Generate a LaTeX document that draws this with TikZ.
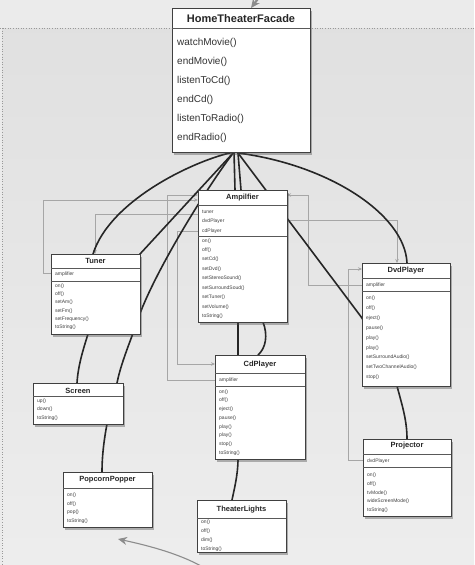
\documentclass[tikz,border=0pt]{standalone}
\usepackage{fontspec}
\setmainfont{Liberation Sans}
\usetikzlibrary{shadows,arrows.meta,calc}
\newcommand\umlrows[6]{%
  \foreach \t [count=\i] in {#6} {\node[#2] (#1\i) at (#3,{#4+(\i-1)*#5}) {\t};}}
\begin{document}
\begin{tikzpicture}[x=1pt,y=-1pt,
  box/.style={draw=black!75, line width=0.6pt, fill=white, anchor=north west,
    inner sep=0pt, outer sep=0pt,
    drop shadow={shadow xshift=2.2pt, shadow yshift=-2.5pt, opacity=0.4, fill=black!70}},
  ttl/.style={font=\fontsize{7.5}{8}\selectfont\bfseries, inner sep=0pt, text=black!85},
  bigttl/.style={font=\fontsize{11}{12}\selectfont\bfseries, inner sep=0pt, text=black!85},
  mem/.style={font=\fontsize{5}{6}\selectfont, anchor=west, inner sep=0pt, text=black!75},
  bigmem/.style={font=\fontsize{10}{11}\selectfont, anchor=west, inner sep=0pt, text=black!80},
  sepline/.style={draw=black!65, line width=0.5pt},
  conn/.style={line width=1.6pt, draw=black!85},
  dep/.style={draw=black!35, line width=0.5pt, -{Stealth[length=4pt,width=3.5pt]}},
  bigarrow/.style={draw=black!45, -{Stealth[length=9pt,width=8pt]}},
]
\useasboundingbox (0,0) rectangle (474,565);
\clip (0,0) rectangle (474,565);
% background
\fill[black!8] (0,0) rectangle (474,565);
\shade[top color=black!12, bottom color=black!7] (2,28) rectangle (474,565);
\draw[black!40, dotted, line width=0.6pt] (0,28) -- (474,28);
\draw[black!40, dotted, line width=0.6pt] (2,28) -- (2,565);

% named coordinates
\coordinate (hub) at (234,152);
\coordinate (hubr) at (238,153);
\coordinate (tunerTop) at (93,254);
\coordinate (tunerBotL) at (88,334);
\coordinate (tunerEdge) at (139,316);
\coordinate (tunerBotR) at (132,336);
\coordinate (screenTopL) at (77,383);
\coordinate (screenTopR) at (117,383);
\coordinate (screenBot) at (107,424);
\coordinate (popTop) at (102,472);
\coordinate (ampTopA) at (235,190);
\coordinate (ampTopB) at (241,190);
\coordinate (ampBotA) at (238,322);
\coordinate (ampBotB) at (263,322);
\coordinate (cdTopA) at (238,355);
\coordinate (cdTopB) at (258,355);
\coordinate (cdBot) at (238,459);
\coordinate (tlTop) at (232,500);
\coordinate (dvdLeft) at (362,318);
\coordinate (dvdTop) at (407,263);
\coordinate (dvdBot) at (397,386);
\coordinate (projTop) at (407,439);

% dependency arrows (grey)
\coordinate (d1a) at (51,273); \coordinate (d1b) at (198,200);
\draw[dep] (d1a) -- (43,273) -- (43,200) -- (d1b);
\coordinate (d2a) at (198,214); \coordinate (d2b) at (95,254);
\draw[dep] (d2a) -- (95,214) -- (d2b);
\coordinate (d3a) at (215,380); \coordinate (d3b) at (198,195);
\draw[dep] (d3a) -- (167,380) -- (167,195) -- (d3b);
\coordinate (d4a) at (198,231); \coordinate (d4b) at (215,364);
\draw[dep] (d4a) -- (177,231) -- (177,364) -- (d4b);
\coordinate (d5a) at (362,285); \coordinate (d5b) at (287,195);
\draw[dep] (d5a) -- (308,285) -- (308,195) -- (d5b);
\coordinate (d6a) at (287,220); \coordinate (d6b) at (397,263);
\draw[dep] (d6a) -- (397,220) -- (d6b);
\coordinate (d7a) at (363,460); \coordinate (d7b) at (362,269);
\draw[dep] (d7a) -- (348,460) -- (348,269) -- (d7b);

% connectors (black)
\draw[conn] (hub) .. controls (195,160) and (110,200) .. (tunerTop);
\draw[conn] (hub) -- (140,254) -- (tunerBotL) .. controls (83,350) and (78,366) .. (screenTopL);
\draw[conn] (hub) .. controls (212,180) and (158,265) .. (tunerEdge) -- (tunerBotR)
   .. controls (126,352) and (120,368) .. (screenTopR) -- (screenBot)
   .. controls (104,440) and (102,456) .. (popTop);
\draw[conn] (hub) -- (ampTopA) -- (ampBotA) -- (cdTopA) -- (cdBot)
   .. controls (238,475) and (234,490) .. (tlTop);
\draw[conn] (hubr) -- (ampTopB) -- (ampBotB) .. controls (268,335) and (266,348) .. (cdTopB);
\draw[conn] (hubr) -- (dvdLeft) -- (dvdBot) .. controls (402,405) and (407,420) .. (projTop);
\draw[conn] (hubr) .. controls (330,165) and (405,215) .. (dvdTop);

% big grey arrows
\coordinate (ta) at (266,-12); \coordinate (tb) at (251,8);
\draw[bigarrow, line width=2.2pt] (ta) -- (tb);
\coordinate (ba) at (215,575); \coordinate (bb) at (118,539);
\draw[bigarrow, line width=1.1pt] (ba) .. controls (190,556) and (150,546) .. (bb);

% HomeTheaterFacade
\node[box, minimum width=138pt, minimum height=144pt] (facade) at (172,8) {};
\node[bigttl] (facadet) at (241,18.5) {HomeTheaterFacade};
\draw[sepline] (172,28) -- (310,28);
\umlrows{facm}{bigmem}{177}{42.5}{19}{watchMovie(),endMovie(),listenToCd(),endCd(),listenToRadio(),endRadio()}

% Ampilfier
\node[box, minimum width=89pt, minimum height=132pt] (amp) at (198,190) {};
\node[ttl] (ampt) at (242.5,197.5) {Ampilfier};
\draw[sepline] (198,205.5) -- (287,205.5);
\draw[sepline] (198,236.5) -- (287,236.5);
\umlrows{ampa}{mem}{202}{211.5}{9.75}{tuner,dvdPlayer,cdPlayer}
\umlrows{ampm}{mem}{202}{240.8}{9.42}{on(),off(),setCd(),setDvd(),setStereoSound(),setSurroundSoud(),setTuner(),setVolume(),toString()}

% Tuner
\node[box, minimum width=89pt, minimum height=80pt] (tuner) at (51,254) {};
\node[ttl] (tunert) at (95.5,260.5) {Tuner};
\draw[sepline] (51,268.5) -- (140,268.5);
\draw[sepline] (51,281.5) -- (140,281.5);
\umlrows{tunera}{mem}{55}{274.5}{1}{amplifier}
\umlrows{tunerm}{mem}{55}{286.5}{8.1}{on(),off(),setAm(),setFm(),setFrequency(),toString()}

% DvdPlayer
\node[box, minimum width=88pt, minimum height=123pt] (dvd) at (362,263) {};
\node[ttl] (dvdt) at (406,271) {DvdPlayer};
\draw[sepline] (362,278.5) -- (450,278.5);
\draw[sepline] (362,291.5) -- (450,291.5);
\umlrows{dvda}{mem}{366}{284.8}{1}{amplifier}
\umlrows{dvdm}{mem}{366}{298.5}{9.85}{on(),off(),eject(),pause(),play(),play(),setSurroundAudio(),setTwoChannelAudio(),stop()}

% CdPlayer
\node[box, minimum width=90pt, minimum height=104pt] (cd) at (215,355) {};
\node[ttl] (cdt) at (260,364.5) {CdPlayer};
\draw[sepline] (215,373.5) -- (305,373.5);
\draw[sepline] (215,386.5) -- (305,386.5);
\umlrows{cda}{mem}{219}{380}{1}{amplifier}
\umlrows{cdm}{mem}{219}{392}{8.7}{on(),off(),eject(),pause(),play(),play(),stop(),toString()}

% Screen
\node[box, minimum width=90pt, minimum height=41pt] (screen) at (33,383) {};
\node[ttl] (screent) at (78,390.5) {Screen};
\draw[sepline] (33,396.5) -- (123,396.5);
\umlrows{screenm}{mem}{37}{401}{8.6}{up(),down(),toString()}

% PopcornPopper
\node[box, minimum width=89pt, minimum height=55pt] (pop) at (63,472) {};
\node[ttl] (popt) at (107.5,480) {PopcornPopper};
\draw[sepline] (63,488.5) -- (152,488.5);
\umlrows{popm}{mem}{67}{495}{8.85}{on(),off(),pop(),toString()}

% TheaterLights
\node[box, minimum width=89pt, minimum height=52pt] (tl) at (197,500) {};
\node[ttl] (tlt) at (241.5,509.5) {TheaterLights};
\draw[sepline] (197,518) -- (286,518);
\umlrows{tlm}{mem}{201}{522.5}{8.9}{on(),off(),dim(),toString()}

% Projector
\node[box, minimum width=88pt, minimum height=77pt] (proj) at (363,439) {};
\node[ttl] (projt) at (407,446) {Projector};
\draw[sepline] (363,454) -- (451,454);
\draw[sepline] (363,467.5) -- (451,467.5);
\umlrows{proja}{mem}{367}{460.8}{1}{dvdPlayer}
\umlrows{projm}{mem}{367}{475.5}{8.65}{on(),off(),tvMode(),wideScreenMode(),toString()}
\end{tikzpicture}
\end{document}
